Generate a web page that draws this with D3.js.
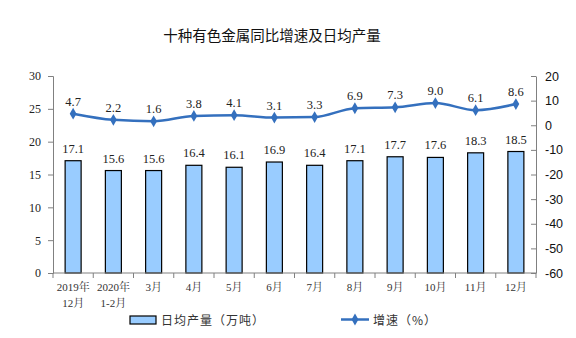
<!DOCTYPE html>
<html>
<head>
<meta charset="utf-8">
<script src="https://cdn.jsdelivr.net/npm/d3@7"></script>
<style>
  body { margin: 0; background: #fff; }
  svg { display: block; }
</style>
</head>
<body>
<svg id="chart" width="576" height="338"></svg>
<script>
// Monthly output of ten nonferrous metals: daily average output and YoY growth
const categories = ["2019年\n12月", "2020年\n1-2月", "3月", "4月", "5月", "6月", "7月", "8月", "9月", "10月", "11月", "12月"];
const dailyOutput = [17.1, 15.6, 15.6, 16.4, 16.1, 16.9, 16.4, 17.1, 17.7, 17.6, 18.3, 18.5];
const growth = [4.7, 2.2, 1.6, 3.8, 4.1, 3.1, 3.3, 6.9, 7.3, 9.0, 6.1, 8.6];
const leftTicks = [0, 5, 10, 15, 20, 25, 30];
const rightTicks = [-60, -50, -40, -30, -20, -10, 0, 10, 20];

const svg = d3.select("#chart");
const margin = { left: 53, right: 40, top: 76, bottom: 65 };
const W = 576, H = 338;
const x0 = margin.left, x1 = W - margin.right, yTop = margin.top, yBot = H - margin.bottom;

const serif = "'Liberation Serif', 'Noto Serif CJK SC', 'Noto Sans CJK SC', serif";
const sans = "'Liberation Sans', Arial, 'Noto Sans CJK SC', sans-serif";
const cjk = "'Noto Sans CJK SC', sans-serif";
const lineColor = "#3470BE";
const barFill = "#99CCFF";
const axisColor = "#808080";

const x = d3.scaleBand().domain(categories).range([x0, x1]);
const yL = d3.scaleLinear().domain([0, 30]).range([yBot, yTop]);
const yR = d3.scaleLinear().domain([-60, 20]).range([yBot, yTop]);

// Title
svg.append("text").attr("x", 272).attr("y", 41).attr("text-anchor", "middle")
  .attr("font-family", cjk).attr("font-size", 14.5).attr("fill", "#111")
  .text("十种有色金属同比增速及日均产量");

// Bars
const barW = 16;
svg.append("g").selectAll("rect").data(dailyOutput).join("rect")
  .attr("x", (d, i) => x(categories[i]) + x.bandwidth() / 2 - barW / 2)
  .attr("y", d => yL(d))
  .attr("width", barW)
  .attr("height", d => yBot - yL(d))
  .attr("fill", barFill).attr("stroke", "#000").attr("stroke-width", 1.2);

// Bar value labels
svg.append("g").selectAll("text").data(dailyOutput).join("text")
  .attr("x", (d, i) => x(categories[i]) + x.bandwidth() / 2)
  .attr("y", d => yL(d) - 8)
  .attr("text-anchor", "middle")
  .attr("font-family", serif).attr("font-size", 12.5).attr("fill", "#222")
  .text(d => d.toFixed(1));

// Left axis
const gL = svg.append("g").attr("transform", `translate(${x0},0)`)
  .call(d3.axisLeft(yL).tickValues(leftTicks).tickSize(5).tickPadding(7).tickFormat(d3.format("d")));
gL.select(".domain").attr("stroke", axisColor);
gL.selectAll(".tick line").attr("stroke", axisColor);
gL.selectAll("text").attr("font-family", serif).attr("font-size", 12).attr("fill", "#222");

// Right axis (ticks inward), labels with plain hyphen minus
const gR = svg.append("g").attr("transform", `translate(${x1},0)`)
  .call(d3.axisRight(yR).tickValues(rightTicks).tickSize(0).tickPadding(9).tickFormat(d => String(d)));
gR.select(".domain").attr("stroke", axisColor);
gR.selectAll(".tick").append("line").attr("x1", 0).attr("x2", -5).attr("stroke", axisColor);
gR.selectAll("text").attr("font-family", sans).attr("font-size", 12.5).attr("fill", "#111");

// Bottom axis with ticks between categories
const gB = svg.append("g");
gB.append("line").attr("x1", x0).attr("x2", x1).attr("y1", yBot).attr("y2", yBot).attr("stroke", axisColor);
const bounds = categories.map(c => x(c)).concat([x1]);
gB.selectAll("line.tk").data(bounds).join("line").attr("class", "tk")
  .attr("x1", d => d).attr("x2", d => d).attr("y1", yBot).attr("y2", yBot + 5).attr("stroke", axisColor);
const labels = gB.selectAll("text").data(categories).join("text")
  .attr("x", d => x(d) + x.bandwidth() / 2)
  .attr("y", yBot + 18)
  .attr("text-anchor", "middle")
  .attr("font-family", serif).attr("font-size", 11).attr("fill", "#333");
labels.each(function (d) {
  const parts = d.split("\n");
  d3.select(this).selectAll("tspan").data(parts).join("tspan")
    .attr("x", x(d) + x.bandwidth() / 2)
    .attr("dy", (p, i) => i === 0 ? 0 : 16)
    .text(p => p);
});

// Growth line
const line = d3.line()
  .x((d, i) => x(categories[i]) + x.bandwidth() / 2)
  .y(d => yR(d))
  .curve(d3.curveMonotoneX);
svg.append("path").datum(growth).attr("d", line)
  .attr("fill", "none").attr("stroke", lineColor).attr("stroke-width", 2.5);

const diamond = d3.symbol().type(d3.symbolDiamond).size(40);
svg.append("g").selectAll("path").data(growth).join("path")
  .attr("transform", (d, i) => `translate(${x(categories[i]) + x.bandwidth() / 2},${yR(d)})`)
  .attr("d", diamond).attr("fill", lineColor);

svg.append("g").selectAll("text").data(growth).join("text")
  .attr("x", (d, i) => x(categories[i]) + x.bandwidth() / 2)
  .attr("y", d => yR(d) - 8)
  .attr("text-anchor", "middle")
  .attr("font-family", serif).attr("font-size", 12.5).attr("fill", "#222")
  .text(d => d.toFixed(1));

// Legend
const lg = svg.append("g");
lg.append("rect").attr("x", 130).attr("y", 316).attr("width", 26).attr("height", 8)
  .attr("fill", barFill).attr("stroke", "#000").attr("stroke-width", 1.2);
lg.append("text").attr("x", 161).attr("y", 324.5)
  .attr("font-family", cjk).attr("font-size", 12).attr("fill", "#333")
  .attr("letter-spacing", 1).text("日均产量（万吨）");
lg.append("line").attr("x1", 341).attr("x2", 369).attr("y1", 319.5).attr("y2", 319.5)
  .attr("stroke", lineColor).attr("stroke-width", 2.5);
lg.append("path").attr("transform", "translate(355,319.5)").attr("d", diamond).attr("fill", lineColor);
lg.append("text").attr("x", 373).attr("y", 324.5)
  .attr("font-family", cjk).attr("font-size", 12).attr("fill", "#333")
  .attr("letter-spacing", 1).text("增速（%）");
</script>
</body>
</html>
